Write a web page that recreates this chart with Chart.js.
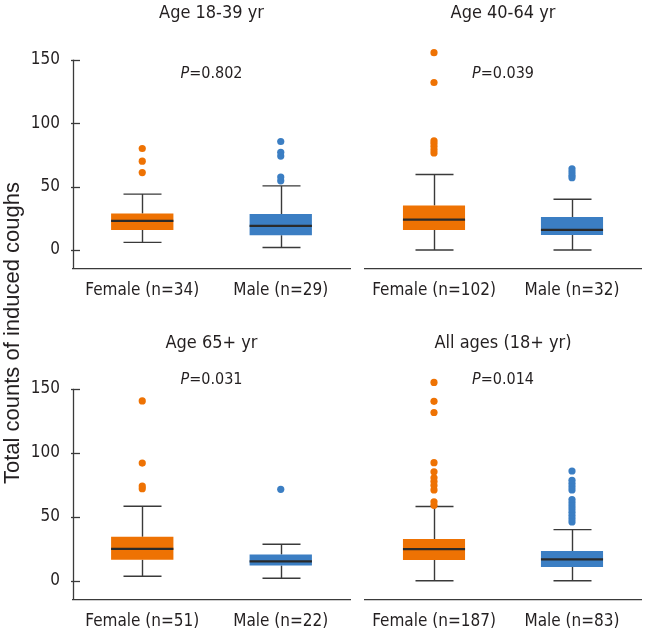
<!DOCTYPE html>
<html>
<head>
<meta charset="utf-8">
<script src="https://cdn.jsdelivr.net/npm/chart.js@4.4.1/dist/chart.umd.min.js"></script>
<style>
  body { margin: 0; background: #fff; }
  #wrap { position: relative; width: 645px; height: 631px; overflow: hidden; }
  canvas { position: absolute; }
  #ytitle {
    position: absolute; left: -158px; top: 321px; width: 340px; height: 24px;
    line-height: 24px; text-align: center; transform: rotate(-90deg);
    font-family: 'Liberation Sans', Arial, sans-serif; font-size: 22px; color: #231f20;
    white-space: nowrap;
  }
</style>
</head>
<body>
<div id="wrap">
  <canvas id="c0" width="355" height="300" style="left:0;top:0"></canvas>
  <canvas id="c1" width="290" height="300" style="left:355px;top:0"></canvas>
  <canvas id="c2" width="355" height="331" style="left:0;top:300px"></canvas>
  <canvas id="c3" width="290" height="331" style="left:355px;top:300px"></canvas>
  <div id="ytitle">Total counts of induced coughs</div>
</div>
<script>
// data
const panelTitles = ["Age 18-39 yr", "Age 40-64 yr", "Age 65+ yr", "All ages (18+ yr)"];
const pValues = ["0.802", "0.039", "0.031", "0.014"];
const femaleN = [34, 102, 51, 187];
const maleN = [29, 32, 22, 83];
// [lower whisker, Q1, median, Q3, upper whisker]
const femaleBox = [
  [6, 15.8, 22.9, 28.7, 44],
  [0, 15.8, 24, 35, 59.5],
  [3.5, 16.5, 25, 34.5, 58.3],
  [0, 16.2, 24.8, 32.7, 58]
];
const maleBox = [
  [2, 11.6, 19, 28.4, 50.5],
  [0, 11.8, 15.8, 26, 40],
  [2, 12, 15.1, 20.6, 28.5],
  [0, 10.7, 16.7, 23.2, 40]
];
const femaleOutliers = [
  [61, 70, 80],
  [76.5, 79, 81.5, 84, 86, 132, 155.5],
  [72, 74, 92, 140.5],
  [59, 61.7, 71, 74.5, 77.5, 80.5, 85.2, 92.3, 131.5, 140.2, 155]
];
const maleOutliers = [
  [54.5, 57.5, 74, 77, 85.5],
  [57, 59, 61.5, 64],
  [71.5],
  [46, 48.5, 51, 53.5, 56, 58.5, 61, 63.5, 71, 73.5, 76, 78.5, 85.8]
];
const yTicks = [0, 50, 100, 150];

const ORANGE = "#ee7203";
const BLUE = "#3b7ec3";
const TEXT = "#231f20";
const AXIS = "#3a3a3a";
const FONT = "'DejaVu Sans Condensed', 'DejaVu Sans', sans-serif";

Chart.defaults.font.family = FONT;
Chart.defaults.color = TEXT;

// per panel layout (pixels inside each canvas); y runs -15..160, axis line stops at 150
const layout = [
  { showY: true,  pad: { left: 0,  top: 47, right: 5, bottom: 0 }, titleY: 13, pY: 74 },
  { showY: false, pad: { left: 10, top: 47, right: 2, bottom: 0 }, titleY: 13, pY: 74 },
  { showY: true,  pad: { left: 0,  top: 76, right: 5, bottom: 0 }, titleY: 43, pY: 80 },
  { showY: false, pad: { left: 10, top: 76, right: 2, bottom: 0 }, titleY: 43, pY: 80 }
];

function makeBoxPlugin(i) {
  const boxes = [femaleBox[i], maleBox[i]];
  return {
    id: "boxExtras" + i,
    // whiskers under the points
    beforeDatasetsDraw(chart) {
      const ctx = chart.ctx, xs = chart.scales.x, ys = chart.scales.y;
      ctx.save();
      ctx.strokeStyle = AXIS;
      ctx.lineWidth = 1.4;
      boxes.forEach(function (b, k) {
        let cx = Math.round(xs.getPixelForValue(k)) + 0.5;
        let half = 19;
        ctx.beginPath();
        ctx.moveTo(cx, ys.getPixelForValue(b[0]));
        ctx.lineTo(cx, ys.getPixelForValue(b[1]));
        ctx.moveTo(cx, ys.getPixelForValue(b[3]));
        ctx.lineTo(cx, ys.getPixelForValue(b[4]));
        ctx.moveTo(cx - half, ys.getPixelForValue(b[0]));
        ctx.lineTo(cx + half, ys.getPixelForValue(b[0]));
        ctx.moveTo(cx - half, ys.getPixelForValue(b[4]));
        ctx.lineTo(cx + half, ys.getPixelForValue(b[4]));
        ctx.stroke();
      });
      ctx.restore();
    },
    afterDatasetsDraw(chart) {
      const ctx = chart.ctx, ys = chart.scales.y;
      const bars = chart.getDatasetMeta(2).data;
      ctx.save();
      ctx.strokeStyle = "#2a2a2a";
      ctx.lineWidth = 2.2;
      boxes.forEach(function (b, k) {
        let bar = bars[k];
        let yy = ys.getPixelForValue(b[2]);
        ctx.beginPath();
        ctx.moveTo(bar.x - bar.width / 2, yy);
        ctx.lineTo(bar.x + bar.width / 2, yy);
        ctx.stroke();
      });
      ctx.restore();
    },
    afterDraw(chart) {
      const ctx = chart.ctx, area = chart.chartArea, ys = chart.scales.y;
      const lay = layout[i];
      const cx = (area.left + area.right) / 2;
      ctx.save();
      if (lay.showY) {
        // y axis line from top tick down to x axis, plus inward tick marks
        ctx.strokeStyle = AXIS;
        ctx.lineWidth = 1.3;
        let ax = Math.round(area.left) + 0.5;
        ctx.beginPath();
        ctx.moveTo(ax, ys.getPixelForValue(yTicks[yTicks.length - 1]));
        ctx.lineTo(ax, area.bottom);
        ctx.stroke();
        yTicks.forEach(function (v) {
          let yy = Math.round(ys.getPixelForValue(v)) + 0.5;
          ctx.beginPath();
          ctx.moveTo(area.left - 2, yy);
          ctx.lineTo(area.left + 7, yy);
          ctx.stroke();
        });
      }
      ctx.fillStyle = TEXT;
      ctx.textBaseline = "middle";
      // panel title
      ctx.font = "18px " + FONT;
      ctx.textAlign = "center";
      ctx.fillText(panelTitles[i], cx, lay.titleY);
      // P value, italic P
      ctx.font = "italic 16px " + FONT;
      let wP = ctx.measureText("P").width;
      ctx.font = "16px " + FONT;
      let rest = "=" + pValues[i];
      let wR = ctx.measureText(rest).width;
      let x0 = cx - (wP + wR) / 2;
      ctx.textAlign = "left";
      ctx.font = "italic 16px " + FONT;
      ctx.fillText("P", x0, lay.pY);
      ctx.font = "16px " + FONT;
      ctx.fillText(rest, x0 + wP, lay.pY);
      ctx.restore();
    }
  };
}

for (let i = 0; i < 4; i++) {
  const lay = layout[i];
  const labels = ["Female (n=" + femaleN[i] + ")", "Male (n=" + maleN[i] + ")"];
  new Chart(document.getElementById("c" + i), {
    type: "bar",
    data: {
      labels: labels,
      datasets: [
        {
          type: "scatter",
          data: femaleOutliers[i].map(v => ({ x: labels[0], y: v })),
          backgroundColor: ORANGE,
          pointRadius: 3.6,
          pointBorderWidth: 0,
          clip: false
        },
        {
          type: "scatter",
          data: maleOutliers[i].map(v => ({ x: labels[1], y: v })),
          backgroundColor: BLUE,
          pointRadius: 3.6,
          pointBorderWidth: 0,
          clip: false
        },
        {
          data: [[femaleBox[i][1], femaleBox[i][3]], [maleBox[i][1], maleBox[i][3]]],
          backgroundColor: [ORANGE, BLUE],
          borderWidth: 0,
          barPercentage: 0.45,
          categoryPercentage: 1
        }
      ]
    },
    options: {
      responsive: false,
      animation: false,
      events: [],
      layout: { padding: lay.pad },
      plugins: { legend: { display: false }, tooltip: { enabled: false } },
      scales: {
        x: {
          grid: { display: false },
          border: { display: true, color: AXIS, width: 1.3 },
          ticks: { color: TEXT, font: { size: 17 }, padding: 3, maxRotation: 0, autoSkip: false },
          afterFit: function (s) { s.height = 31; }
        },
        y: {
          display: lay.showY,
          min: -15,
          max: 160,
          afterBuildTicks: function (s) { s.ticks = yTicks.map(v => ({ value: v })); },
          grid: { display: false, drawTicks: false },
          border: { display: false },
          ticks: { color: TEXT, font: { size: 17 }, padding: 13 },
          afterFit: function (s) { s.width = lay.showY ? 73 : 0; }
        }
      }
    },
    plugins: [makeBoxPlugin(i)]
  });
}
</script>
</body>
</html>
